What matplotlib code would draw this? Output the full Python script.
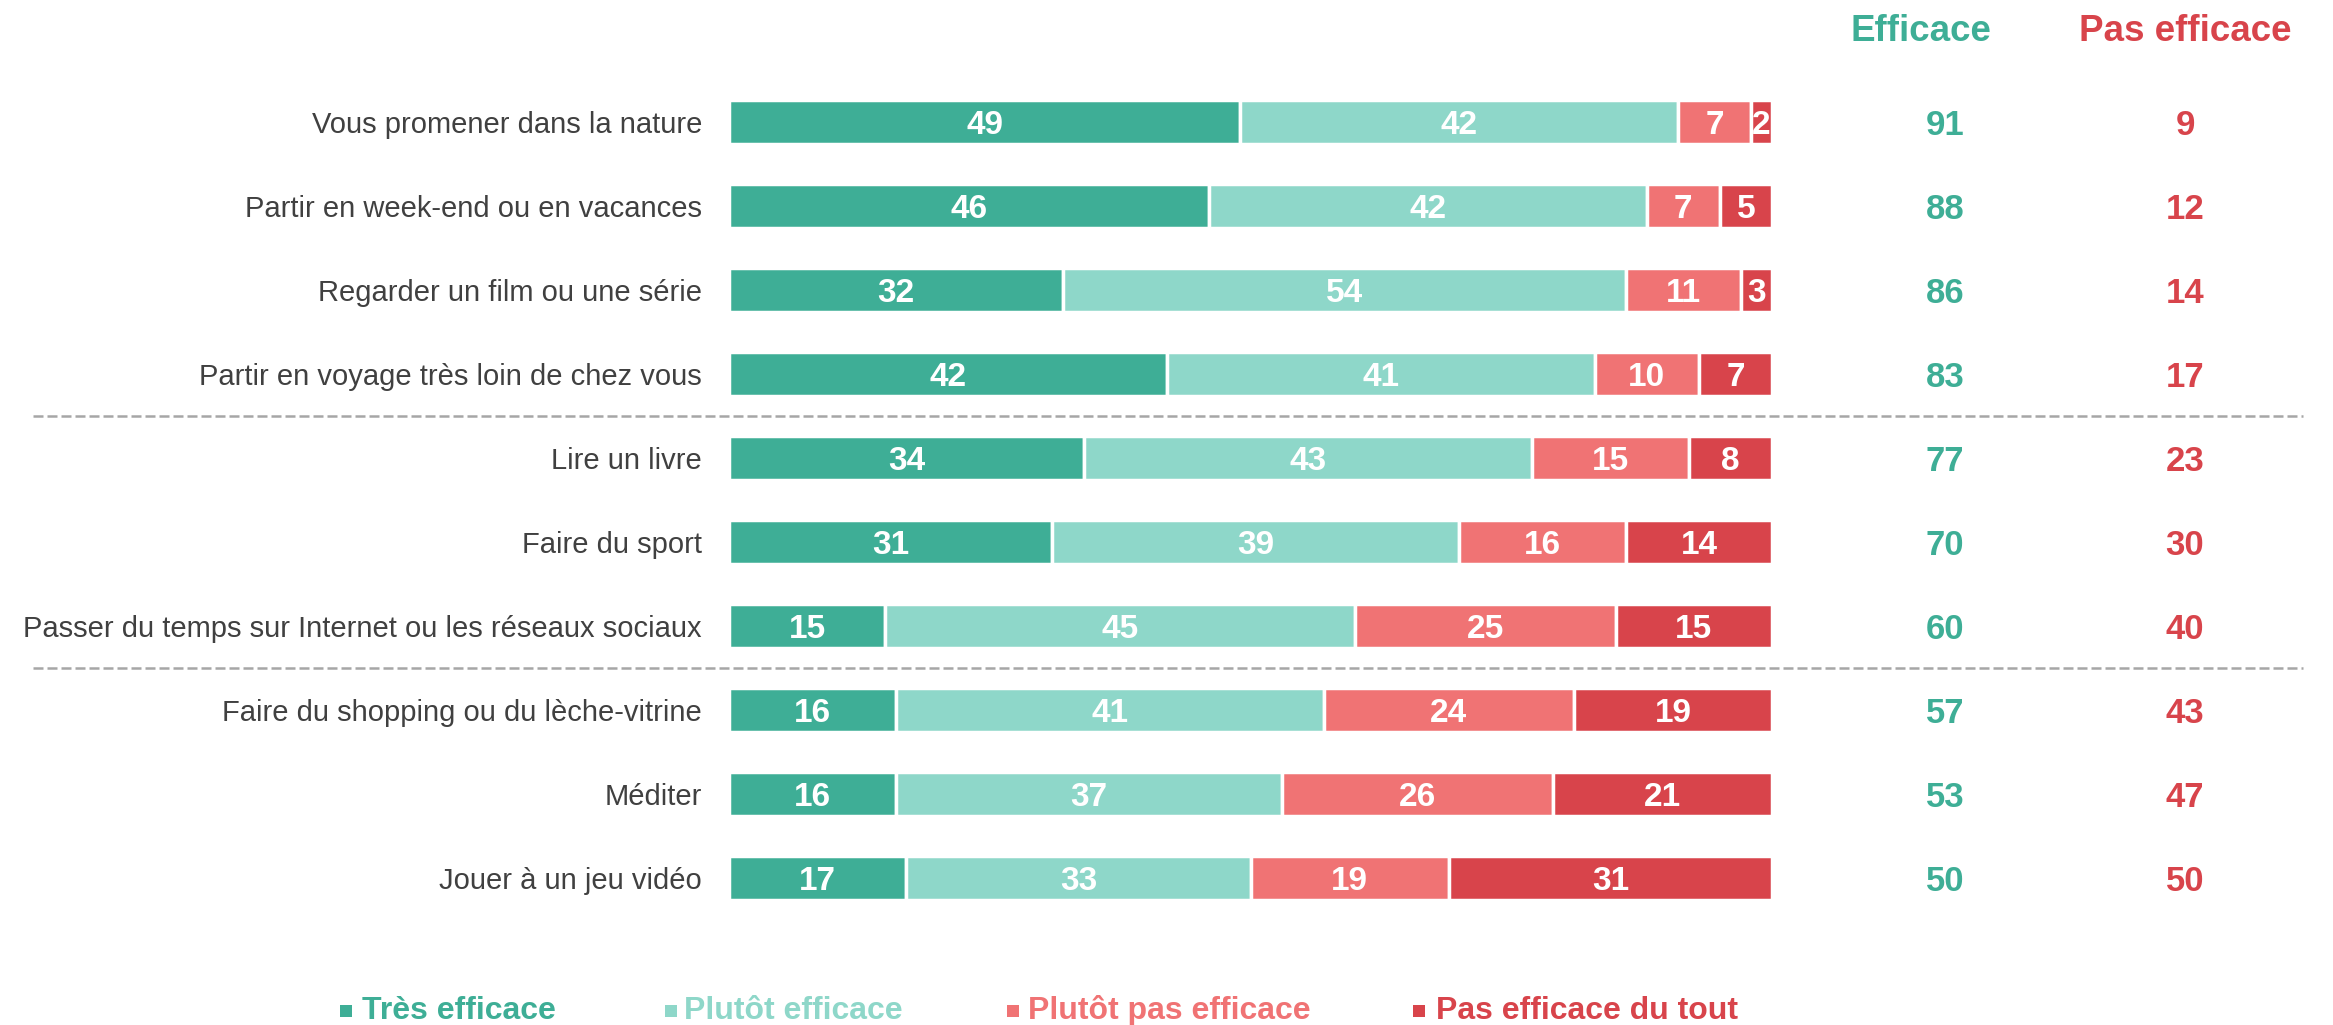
import matplotlib
matplotlib.use("Agg")
import matplotlib.pyplot as plt
from matplotlib.transforms import blended_transform_factory
from matplotlib.patches import Rectangle

plt.rcParams['font.family'] = ['Liberation Sans', 'DejaVu Sans']

categories = [
    "Vous promener dans la nature",
    "Partir en week-end ou en vacances",
    "Regarder un film ou une série",
    "Partir en voyage très loin de chez vous",
    "Lire un livre",
    "Faire du sport",
    "Passer du temps sur Internet ou les réseaux sociaux",
    "Faire du shopping ou du lèche-vitrine",
    "Méditer",
    "Jouer à un jeu vidéo",
]
tres_efficace = [49, 46, 32, 42, 34, 31, 15, 16, 16, 17]
plutot_efficace = [42, 42, 54, 41, 43, 39, 45, 41, 37, 33]
plutot_pas_efficace = [7, 7, 11, 10, 15, 16, 25, 24, 26, 19]
pas_du_tout = [2, 5, 3, 7, 8, 14, 15, 19, 21, 31]
total_efficace = [91, 88, 86, 83, 77, 70, 60, 57, 53, 50]
total_pas_efficace = [9, 12, 14, 17, 23, 30, 40, 43, 47, 50]
series_names = ["Très efficace", "Plutôt efficace", "Plutôt pas efficace", "Pas efficace du tout"]
separators_after = [3, 6]

colors = ["#3EAE96", "#8ED7C9", "#F07374", "#D8444B"]
green = "#3EAE96"
red = "#D8444B"

W, H = 2333, 1025
fig = plt.figure(figsize=(W / 100, H / 100), dpi=100)
ax = fig.add_axes([729 / W, 1 - 920 / H, 1043 / W, 840 / H])
ax.set_xlim(0, 100)
ax.set_ylim(len(categories) - 0.5, -0.5)
ax.axis("off")

ys = list(range(len(categories)))
series = [tres_efficace, plutot_efficace, plutot_pas_efficace, pas_du_tout]
left = [0] * len(categories)
for vals, col in zip(series, colors):
    ax.barh(ys, vals, left=left, height=0.53, color=col, edgecolor="white", linewidth=2.5)
    for y, v, l in zip(ys, vals, left):
        ax.text(l + v / 2, y, str(v), ha="center", va="center_baseline", color="white",
                fontsize=24, fontweight="bold")
    left = [a + b for a, b in zip(left, vals)]

trans = blended_transform_factory(fig.transFigure, ax.transData)
for y, cat in zip(ys, categories):
    ax.text(702 / W, y, cat, transform=trans, ha="right", va="center_baseline",
            fontsize=21, color="#404040")
for y, v in zip(ys, total_efficace):
    ax.text(1945 / W, y, str(v), transform=trans, ha="center", va="center_baseline",
            fontsize=25, fontweight="bold", color=green)
for y, v in zip(ys, total_pas_efficace):
    ax.text(2185 / W, y, str(v), transform=trans, ha="center", va="center_baseline",
            fontsize=25, fontweight="bold", color=red)

for s in separators_after:
    ax.plot([33 / W, 2303 / W], [s + 0.5, s + 0.5], transform=trans, clip_on=False,
            color="#A6A6A6", linewidth=1.8, dashes=(4, 1.6))

fig.text(1921 / W, 1 - 41 / H, "Efficace", ha="center", va="baseline",
         fontsize=26.5, fontweight="bold", color=green)
fig.text(2185 / W, 1 - 41 / H, "Pas efficace", ha="center", va="baseline",
         fontsize=26.5, fontweight="bold", color=red)

leg_sq_x = [340, 665, 1007, 1413]
leg_tx_x = [362, 684, 1028, 1436]
leg_y = 1019
for name, col, sx, tx in zip(series_names, colors, leg_sq_x, leg_tx_x):
    fig.add_artist(Rectangle((sx / W, 1 - (leg_y - 2) / H), 12 / W, 12 / H,
                             transform=fig.transFigure, color=col, lw=0))
    fig.text(tx / W, 1 - leg_y / H, name, ha="left", va="baseline",
             fontsize=23, fontweight="bold", color=col)

fig.savefig("out.png", dpi=100)
